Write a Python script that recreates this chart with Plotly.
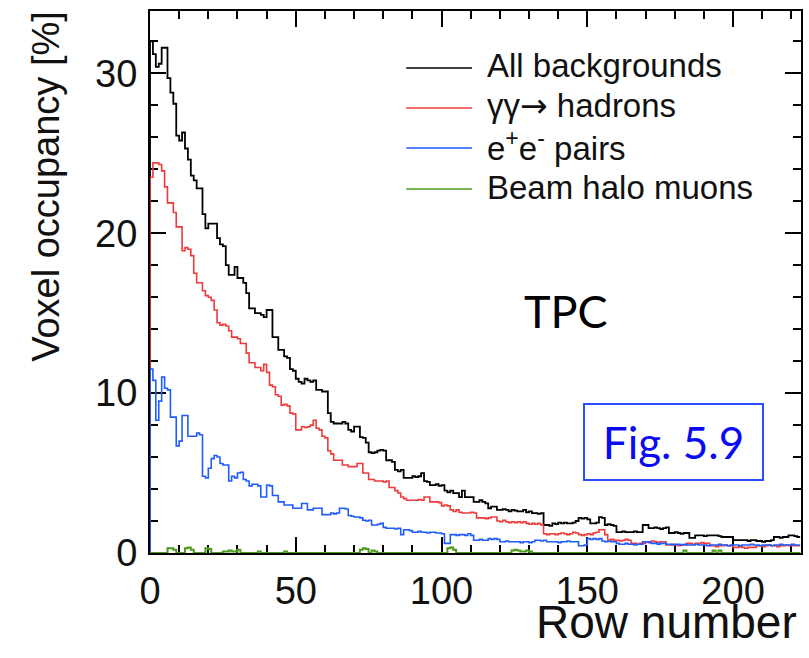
import plotly.graph_objects as go

# ---------------- data ----------------
rows = list(range(223))  # bin i spans [i, i+1]

all_bkg = [
32.0,31.2,30.4,30.6,31.6,31.6,29.7,28.8,28.1,26.1,25.8,26.3,25.3,24.6,23.6,23.3,22.8,22.8,21.2,20.3,
20.6,20.6,20.6,19.7,19.3,19.2,18.0,17.4,17.4,17.9,17.2,17.2,16.9,16.25,15.3,15.3,15.0,15.0,14.9,14.75,
15.2,15.2,13.5,13.5,12.7,12.7,12.3,12.2,11.5,11.4,10.9,10.7,10.6,10.9,10.8,10.7,10.8,10.2,10.2,10.1,
10.1,8.75,8.2,8.1,8.1,8.1,8.2,8.1,7.7,7.6,7.9,7.9,7.25,7.2,6.9,6.3,6.25,6.3,6.4,6.45,
6.4,5.8,5.8,5.7,5.2,5.1,5.2,4.7,4.7,4.7,4.8,4.75,4.8,5.0,4.5,4.45,4.25,4.25,4.3,4.2,
4.25,3.9,3.8,3.9,3.75,3.75,3.5,3.9,3.5,3.5,3.5,3.2,3.2,3.3,3.2,3.1,2.8,2.9,2.9,2.7,
2.7,2.75,2.7,2.6,2.7,2.65,2.6,2.6,2.7,2.55,2.6,2.5,2.5,2.45,2.5,1.75,1.75,1.7,1.85,1.8,
1.9,1.85,1.9,1.85,1.85,1.9,2.0,2.2,2.15,2.2,2.1,1.85,1.85,1.9,2.25,2.2,1.75,1.8,1.75,1.7,
1.3,1.3,1.35,1.3,1.3,1.3,1.35,1.3,1.3,1.75,1.75,1.55,1.55,1.6,1.55,1.5,1.55,1.6,1.25,1.25,
1.3,1.25,1.2,1.25,1.25,0.95,0.95,1.1,1.1,1.1,1.05,1.1,1.1,1.1,1.1,1.05,1.0,1.0,1.0,1.0,
0.8,0.8,0.8,0.8,0.8,0.75,0.8,0.8,0.75,0.75,0.7,0.75,0.75,0.8,1.0,1.0,0.95,1.0,1.0,1.1,
1.1,1.05,1.0]

gg_hadrons = [
23.5,24.4,24.4,24.3,23.9,22.9,21.9,21.9,21.3,20.4,20.4,18.9,19.1,19.0,18.6,17.5,16.9,16.9,16.4,16.1,
16.0,15.8,15.2,14.4,14.25,14.3,14.2,13.9,13.5,13.5,13.4,13.1,13.1,12.5,11.9,11.9,11.6,11.6,11.4,11.8,
11.3,10.5,10.4,9.9,9.8,9.25,9.3,9.2,8.75,8.7,7.7,7.7,7.9,7.85,7.9,8.0,8.3,7.8,7.7,7.3,
7.2,6.4,6.2,5.8,5.8,5.8,5.5,5.5,5.4,5.4,5.4,5.6,5.6,5.0,5.0,4.6,4.6,4.5,4.5,4.5,
4.45,4.5,4.1,4.1,3.9,3.75,3.5,3.4,3.3,3.3,3.3,3.3,3.35,3.3,3.5,3.5,3.2,3.2,3.2,3.15,
2.95,3.0,2.95,2.7,2.6,2.7,2.55,2.5,2.5,2.5,2.55,2.5,2.2,2.2,2.2,2.15,2.2,2.25,2.25,2.0,
1.95,2.05,1.95,1.9,1.95,1.9,1.95,1.9,1.95,1.85,1.8,1.85,1.8,1.85,1.75,1.2,1.15,1.2,1.2,1.15,
1.2,1.25,1.2,1.15,1.2,1.3,1.25,1.15,1.1,1.15,1.2,1.15,1.25,1.3,1.45,1.45,1.15,0.8,0.85,0.8,
0.8,0.75,0.8,0.85,0.8,0.6,0.6,0.55,0.6,0.6,0.7,0.7,0.75,0.7,0.65,0.7,0.7,0.5,0.5,0.55,
0.5,0.45,0.5,0.5,0.6,0.6,0.55,0.6,0.6,0.65,0.6,0.6,0.45,0.45,0.4,0.45,0.45,0.5,0.45,0.45,
0.35,0.35,0.4,0.35,0.3,0.35,0.35,0.35,0.45,0.45,0.4,0.45,0.5,0.45,0.45,0.4,0.45,0.45,0.5,0.45,
0.45,0.45,0.45]

ee_pairs = [
11.5,10.8,8.3,9.5,11.0,10.3,10.2,8.5,8.5,6.7,7.0,8.6,8.6,7.3,7.3,7.3,7.5,7.4,4.8,4.7,
5.3,5.9,6.1,6.0,5.6,5.5,5.5,4.5,4.8,4.7,5.0,5.05,4.6,4.5,4.2,4.3,4.3,4.2,3.5,3.5,
4.25,4.2,3.6,3.6,3.2,3.2,3.0,3.0,3.0,2.8,2.8,2.8,3.1,3.1,2.7,2.7,2.8,2.8,2.8,2.4,
2.4,2.4,2.5,2.45,2.5,2.8,2.8,2.75,2.35,2.3,2.25,2.25,2.2,2.05,2.0,2.05,1.75,1.75,1.8,1.85,
1.6,1.55,1.55,1.55,1.5,1.55,1.15,1.45,1.45,1.4,1.3,1.3,1.35,1.3,1.3,1.25,1.3,1.3,1.25,1.25,
1.2,0.6,0.6,1.15,1.15,1.1,1.15,1.15,1.1,1.2,1.1,0.8,0.8,0.85,0.8,0.8,0.9,0.85,0.9,0.85,
0.7,0.7,0.75,0.7,0.7,0.7,0.7,0.65,0.7,0.7,0.65,0.7,0.8,0.8,0.75,0.8,0.7,0.7,0.7,0.7,
0.65,0.7,0.7,0.75,0.7,0.7,0.7,0.45,0.45,0.5,0.9,0.85,0.9,0.85,0.9,0.75,0.7,0.75,0.7,0.7,
0.6,0.55,0.55,0.6,0.55,0.55,0.5,0.55,0.55,0.7,0.7,0.65,0.6,0.6,0.55,0.6,0.6,0.55,0.55,0.5,
0.55,0.55,0.5,0.55,0.5,0.5,0.5,0.55,0.5,0.5,0.5,0.45,0.5,0.5,0.5,0.55,0.5,0.5,0.45,0.5,
0.5,0.5,0.45,0.5,0.5,0.5,0.55,0.5,0.5,0.45,0.5,0.5,0.5,0.45,0.5,0.5,0.55,0.5,0.5,0.5,
0.55,0.5,0.5]

beam_halo = [0.0] * 223
halo_blips = {6: 0.3, 7: 0.3, 8: 0.2, 12: 0.3, 13: 0.35, 14: 0.2, 19: 0.3, 20: 0.25,
              25: 0.1, 26: 0.1, 27: 0.15, 28: 0.1, 29: 0.1, 30: 0.2, 37: 0.1, 46: 0.1,
              72: 0.2, 73: 0.3, 74: 0.25, 76: 0.15, 77: 0.1, 102: 0.3, 103: 0.35, 104: 0.2,
              124: 0.15, 125: 0.2, 126: 0.15, 127: 0.1, 128: 0.1, 129: 0.15, 130: 0.1,
              183: 0.15, 193: 0.15, 195: 0.15}
for k, v in halo_blips.items():
    beam_halo[k] = v

series_names = ["All backgrounds",
                "\u03b3\u03b3<span style=\"font-family:'DejaVu Sans'\">\u2192</span> hadrons",
                "e<sup>+</sup>e<sup>-</sup> pairs",
                "Beam halo muons"]
series_values = [all_bkg, gg_hadrons, ee_pairs, beam_halo]
series_colors = ["#000000", "#f03a3a", "#1f5cff", "#4c9a1c"]
series_widths = [1.8, 1.6, 1.6, 2.0]

x_ticks = [0, 50, 100, 150, 200]
y_ticks = [0, 10, 20, 30]

FONT = "Liberation Sans, Arial, Helvetica, sans-serif"

fig = go.Figure()

# ROOT draws in listing order: black, red, blue, green (last on top)
for i in range(4):
    vals = series_values[i]
    edges = rows + [rows[-1] + 1]
    xs = [edges[0]] + edges
    ys = [0.0] + vals + [vals[-1]]
    fig.add_trace(go.Scatter(
        x=xs, y=ys, mode="lines", line=dict(color=series_colors[i], width=series_widths[i], shape="hv"),
        name=series_names[i], showlegend=False, hoverinfo="skip"))

axis_common = dict(
    showline=True, linecolor="black", linewidth=2, mirror="ticks",
    ticks="inside", ticklen=16, tickwidth=1.5, tickcolor="black",
    showgrid=False, zeroline=False, layer="below traces",
    tickfont=dict(family=FONT, size=38, color="#111111"),
)

fig.update_xaxes(range=[0, 223.3], tickvals=x_ticks, ticklabelstandoff=3,
                 minor=dict(ticks="inside", dtick=10, tick0=0, ticklen=8, tickwidth=1.5, tickcolor="black", showgrid=False),
                 **axis_common)
fig.update_yaxes(range=[0, 33.9], tickvals=y_ticks, ticklabelstandoff=3,
                 minor=dict(ticks="inside", dtick=2, tick0=0, ticklen=8, tickwidth=1.5, tickcolor="black", showgrid=False),
                 **axis_common)

PL, PR, PT, PB = 150, 6, 11, 105
W, H = 809, 658
pw, ph = W - PL - PR, H - PT - PB

def px(xpix):
    return (xpix - PL) / pw

def py(ypix):
    return (H - PB - ypix) / ph

annotations = []
shapes = []

# axis titles
annotations.append(dict(text="Voxel occupancy [%]", xref="paper", yref="paper",
                        x=px(45), y=py(9), xanchor="center", yanchor="top", textangle=-90,
                        showarrow=False, font=dict(family=FONT, size=38, color="#111111")))
annotations.append(dict(text="Row number", xref="paper", yref="paper",
                        x=px(801), y=py(622), xanchor="right", yanchor="middle",
                        showarrow=False, font=dict(family=FONT, size=46, color="#111111")))

# legend (manual, ROOT style)
leg_y = [68, 108, 148, 189]
for name, col, yy in zip(series_names, series_colors, leg_y):
    shapes.append(dict(type="line", xref="paper", yref="paper", x0=px(407), x1=px(473),
                       y0=py(yy), y1=py(yy), line=dict(color=col, width=1.6)))
    annotations.append(dict(text=name, xref="paper", yref="paper", x=px(486), y=py(yy - 2),
                            xanchor="left", yanchor="middle", showarrow=False,
                            font=dict(family=FONT, size=33, color="#111111")))

# TPC label
annotations.append(dict(text="TPC", xref="paper", yref="paper", x=px(567), y=py(311),
                        xanchor="center", yanchor="middle", showarrow=False,
                        font=dict(family="Lato, Carlito, sans-serif", size=45, color="black")))

# Fig. 5.9 box
annotations.append(dict(text="Fig. 5.9", xref="paper", yref="paper", x=px(675), y=py(441.5),
                        xanchor="center", yanchor="middle", showarrow=False,
                        width=177, height=74, borderpad=0, borderwidth=2, bordercolor="#2a4dff",
                        font=dict(family="Lato, Carlito, sans-serif", size=44, color="#0a0af5")))

fig.update_layout(
    width=W, height=H, margin=dict(l=PL, r=PR, t=PT, b=PB),
    paper_bgcolor="white", plot_bgcolor="white",
    showlegend=False, annotations=annotations, shapes=shapes,
)

fig.write_html("out.html")
